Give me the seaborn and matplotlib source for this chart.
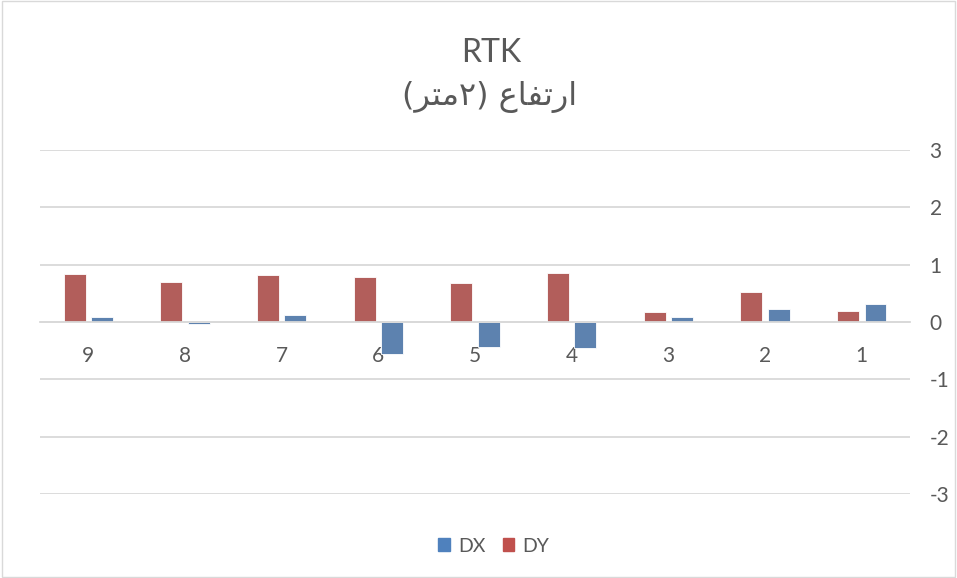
import matplotlib.pyplot as plt
import matplotlib.patches as mpatches
import pandas as pd
import seaborn as sns

# Data (categories 1..9, x axis drawn reversed)
categories = ['1', '2', '3', '4', '5', '6', '7', '8', '9']
dx = [0.31, 0.23, 0.08, -0.45, -0.44, -0.56, 0.13, -0.04, 0.09]
dy = [0.19, 0.52, 0.17, 0.86, 0.68, 0.78, 0.82, 0.70, 0.84]
y_ticks = [-3, -2, -1, 0, 1, 2, 3]

title_top = 'RTK'
# "ارتفاع (٢متر)" in shaped, visual order (matplotlib has no bidi/shaping)
title_ar = '(\ufeae\ufe98\ufee3\u0662) \ufec9\ufe8e\ufed4\ufe97\ufead\ufe8d'

blue = '#4F81BD'
red = '#C0504D'
text_col = '#595959'
grid_col = '#D9D9D9'

sns.set_style('white')
plt.rcParams['font.family'] = ['Lato', 'DejaVu Sans']
plt.rcParams['axes.unicode_minus'] = False

df = pd.DataFrame({'cat': categories * 2,
                   'value': dx + dy,
                   'series': ['DX'] * len(dx) + ['DY'] * len(dy)})

fig = plt.figure(figsize=(9.57, 5.78), dpi=100)
ax = fig.add_axes([0.0418, 0.1453, 0.9092, 0.5952])

sns.barplot(data=df, x='cat', y='value', hue='series',
            order=categories[::-1], hue_order=['DY', 'DX'],
            palette={'DX': blue, 'DY': red},
            width=0.567, gap=0.2, ax=ax, legend=False,
            edgecolor='white', linewidth=0.6)

ax.set_ylim(-3, 3)
ax.set_xlim(-0.5, len(categories) - 0.5)
ax.set_yticks(y_ticks)
ax.yaxis.tick_right()
ax.yaxis.grid(True, color=grid_col, linewidth=1.3)
ax.set_axisbelow(True)
for s in ['top', 'left', 'right']:
    ax.spines[s].set_visible(False)
ax.spines['bottom'].set_position(('data', 0))
ax.spines['bottom'].set_color(grid_col)
ax.spines['bottom'].set_linewidth(1.3)
ax.tick_params(axis='x', length=0, pad=17, labelsize=15, labelcolor=text_col)
ax.tick_params(axis='y', length=0, pad=14, labelsize=15, labelcolor=text_col)
ax.set_xlabel('')
ax.set_ylabel('')

fig.text(0.513, 1 - 53 / 578, title_top, ha='center', va='center',
         fontsize=23, color=text_col)
fig.text(0.512, 1 - 97 / 578, title_ar, ha='center', va='center',
         fontsize=23, color=text_col, family=['DejaVu Sans'])

handles = [mpatches.Patch(color=blue, label='DX'),
           mpatches.Patch(color=red, label='DY')]
fig.legend(handles=handles, loc='center', bbox_to_anchor=(0.516, 1 - 546 / 578),
           ncol=2, frameon=False, fontsize=14, labelcolor=text_col,
           handlelength=0.6, handleheight=0.6, handletextpad=0.4, columnspacing=0.9)

fig.add_artist(mpatches.Rectangle((0.002, 0.002), 0.996, 0.996, transform=fig.transFigure,
                                  fill=False, edgecolor=grid_col, linewidth=1))

fig.savefig('out.png', dpi=100)
